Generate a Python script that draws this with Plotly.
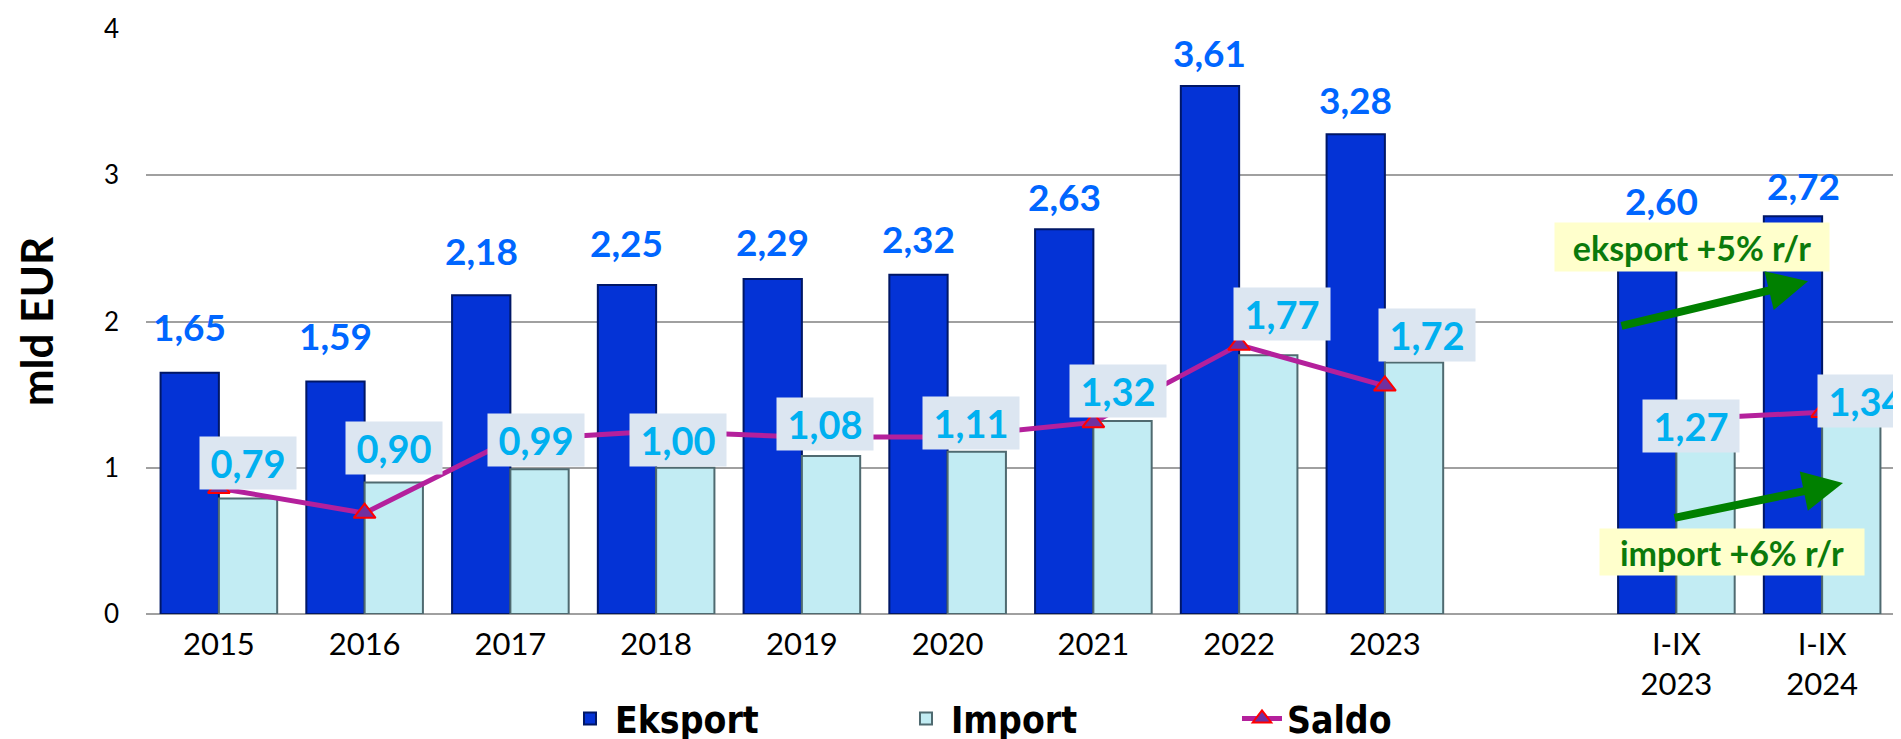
import plotly.graph_objects as go

categories = ["2015", "2016", "2017", "2018", "2019", "2020", "2021", "2022", "2023",
              "I-IX<br>2023", "I-IX<br>2024"]
eksport = [1.65, 1.59, 2.18, 2.25, 2.29, 2.32, 2.63, 3.61, 3.28, 2.60, 2.72]
import_ = [0.79, 0.90, 0.99, 1.00, 1.08, 1.11, 1.32, 1.77, 1.72, 1.27, 1.34]
saldo = [0.86, 0.69, 1.19, 1.25, 1.21, 1.21, 1.31, 1.84, 1.56, 1.33, 1.38]
y_ticks = [0, 1, 2, 3, 4]

GAP = " "  # empty slot between 2023 and I-IX 2023
axis_order = categories[:9] + [GAP] + categories[9:]
saldo_line = saldo[:9] + [None] + saldo[9:]

# label offsets (pixels)
eks_yshift = [46, 46, 45, 42, 38, 36, 33, 34, 35, 33, 31]
eks_xshift = [0, 0, 0, 0, 0, 0, 0, 0, 0, 14, 11]
imp_yshift = [35, 34, 29, 28, 32, 29, 30, 41, 27, 2, 17]
imp_xshift = [0, 0, -4, -7, -6, -6, -5, 14, 13, -15, 15]

def fmt(v):
    return f"{v:.2f}".replace(".", ",")

LABEL_FONT = "Lato, 'DejaVu Sans', sans-serif"

fig = go.Figure()
fig.add_trace(go.Bar(
    name="Eksport", x=categories, y=eksport,
    marker=dict(color="#0433D6", line=dict(color="#001766", width=2)),
    hoverinfo="x+y",
))
fig.add_trace(go.Bar(
    name="Import", x=categories, y=import_,
    marker=dict(color="#C2ECF3", line=dict(color="#4F6A70", width=2)),
    hoverinfo="x+y",
))
fig.add_trace(go.Scatter(
    name="Saldo", x=axis_order, y=saldo_line, mode="lines+markers",
    connectgaps=False,
    line=dict(color="#B4209C", width=5),
    marker=dict(symbol="triangle-up", size=19, color="#7030A0",
                line=dict(color="#FF0000", width=2)),
))

annotations = []
SLOT_PX = 145.75
BAR_OFF = 0.2 * SLOT_PX
for i, c in enumerate(categories):
    pos = axis_order.index(c)
    annotations.append(dict(
        x=pos, y=eksport[i], xref="x", yref="y", text=fmt(eksport[i]),
        showarrow=False, xshift=-BAR_OFF + eks_xshift[i], yshift=eks_yshift[i],
        font=dict(family=LABEL_FONT, size=37, color="#0066FF", weight="bold"),
    ))
    annotations.append(dict(
        x=pos, y=import_[i], xref="x", yref="y", text=fmt(import_[i]),
        showarrow=False, xshift=BAR_OFF + imp_xshift[i], yshift=imp_yshift[i],
        bgcolor="#DCE6F1", width=94, height=50,
        font=dict(family=LABEL_FONT, size=38, color="#00B0F0", weight="bold"),
    ))

# growth call-outs
annotations.append(dict(
    x=10.107, y=2.508, xref="x", yref="y", text="eksport +5% r/r",
    showarrow=False, bgcolor="#FFFFCC", width=272, height=46,
    font=dict(family=LABEL_FONT, size=34, color="#0B7A0B", weight="bold"),
))
annotations.append(dict(
    x=10.38, y=0.427, xref="x", yref="y", text="import +6% r/r",
    showarrow=False, bgcolor="#FFFFCC", width=262, height=44,
    font=dict(family=LABEL_FONT, size=34, color="#0B7A0B", weight="bold"),
))
annotations.append(dict(
    x=10.903, y=2.275, xref="x", yref="y", text="", showarrow=True,
    ax=-188, ay=45, axref="pixel", ayref="pixel",
    arrowhead=2, arrowsize=1, arrowwidth=8, arrowcolor="#008000",
))
annotations.append(dict(
    x=11.143, y=0.895, xref="x", yref="y", text="", showarrow=True,
    ax=-170, ay=35, axref="pixel", ayref="pixel",
    arrowhead=2, arrowsize=1, arrowwidth=8, arrowcolor="#008000",
))

fig.update_layout(
    width=1901, height=739,
    margin=dict(l=138, r=14, t=21, b=133, autoexpand=False),
    paper_bgcolor="white", plot_bgcolor="white",
    barmode="group", bargap=0.2, bargroupgap=0,
    font=dict(family=LABEL_FONT, color="black"),
    showlegend=True,
    legend=dict(
        orientation="h", xref="container", x=0.293, xanchor="left",
        yref="container", y=0.038, yanchor="middle",
        font=dict(family="'DejaVu Sans Condensed', 'Liberation Sans Narrow', 'DejaVu Sans', sans-serif",
                  size=37, color="black", weight="bold"),
        entrywidth=281, itemwidth=40, bgcolor="rgba(0,0,0,0)",
    ),
    annotations=annotations,
    xaxis=dict(
        type="category", categoryorder="array", categoryarray=axis_order,
        range=[-0.5, len(axis_order) - 0.5],
        showgrid=False, showline=False, zeroline=False, ticks="",
        tickfont=dict(family=LABEL_FONT, size=31, color="black"),
        ticklabelstandoff=9,
    ),
    yaxis=dict(
        range=[0, 4], tickvals=y_ticks, ticktext=[str(t) for t in y_ticks],
        showgrid=True, gridcolor="#A0A0A0", gridwidth=1.5,
        zeroline=True, zerolinecolor="#A0A0A0", zerolinewidth=1.5,
        showline=False, ticks="",
        tickfont=dict(family=LABEL_FONT, size=26, color="black"),
        ticklabelstandoff=26,
        title=dict(text="mld EUR", standoff=36,
                   font=dict(family=LABEL_FONT, size=44, color="black", weight="bold")),
    ),
)

fig.write_html("out.html")
